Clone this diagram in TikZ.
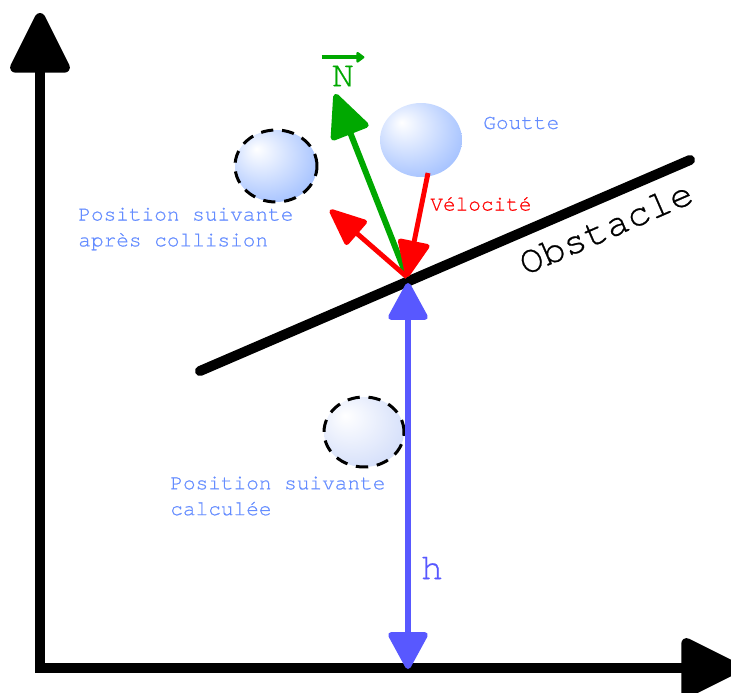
\documentclass[tikz,border=0pt]{standalone}
\usepackage{fontspec}
\setmonofont[FakeBold=0.6]{TeX Gyre Cursor}
\usetikzlibrary{arrows.meta,shapes.geometric}

\definecolor{gouttebleu}{RGB}{168,196,255}
\definecolor{gouttepale}{RGB}{214,224,250}
\definecolor{textebleu}{RGB}{100,140,255}
\definecolor{bleuh}{RGB}{88,88,255}
\definecolor{vertN}{RGB}{0,168,0}
\definecolor{rougeV}{RGB}{255,0,0}

\pgfdeclareradialshading{goutte}{\pgfpoint{-12bp}{12bp}}{color(0bp)=(white); color(32bp)=(gouttebleu); color(60bp)=(gouttebleu)}
\pgfdeclareradialshading{gouttepale}{\pgfpoint{-12bp}{12bp}}{color(0bp)=(white); color(32bp)=(gouttepale); color(60bp)=(gouttepale)}

\begin{document}
\begin{tikzpicture}[x=0.02cm, y=-0.02cm,
    axe/.style={line width=6pt, {Triangle[round,length=38pt,width=36pt]}-{Triangle[round,length=38pt,width=36pt]}},
    obstacle/.style={line width=5.7pt, line cap=round},
    fleche bleue/.style={bleuh, line width=3.4pt, {Triangle[round,length=23pt,width=24pt]}-{Triangle[round,length=23pt,width=24pt]}},
    fleche verte/.style={vertN, line width=3.4pt, -{Triangle[round,length=27pt,width=24pt]}},
    fleche rouge/.style={rougeV, line width=2.8pt, -{Triangle[round,length=23pt,width=19pt]}},
    goutte/.style={ellipse, inner sep=0pt, shade, shading=goutte},
    fantome/.style={ellipse, inner sep=0pt, draw=black, line width=1.7pt, dash pattern=on 7pt off 5pt},
    texte/.style={font=\ttfamily\fontsize{12}{14.7}\selectfont, align=left, anchor=west, inner sep=0pt}]

    \useasboundingbox (0,0) rectangle (731,693);

    % axes
    \coordinate (ytip) at (40,13);
    \coordinate (origine) at (40,668);
    \coordinate (xtip) at (741,668);
    \draw[axe] (ytip) -- (origine) -- (xtip);

    % obstacle
    \coordinate (o1) at (200,371);
    \coordinate (o2) at (690,160);
    \draw[obstacle] (o1) -- (o2);
    \node[font=\ttfamily\fontsize{22}{26}\selectfont, rotate=23.5] (lobstacle) at (606,228) {Obstacle};

    % gouttes
    \node[goutte, minimum width=1.64cm, minimum height=1.48cm] (goutte) at (421,140) {};
    \node[goutte, fantome, minimum width=1.64cm, minimum height=1.44cm] (suivante) at (276,166) {};
    \node[goutte, shading=gouttepale, fantome, minimum width=1.6cm, minimum height=1.4cm] (calculee) at (364,432) {};

    % h
    \coordinate (impact) at (407,277);
    \coordinate (hhaut) at (408,283);
    \coordinate (hbas) at (408,669);
    \draw[fleche bleue] (hbas) -- (hhaut);
    \node[bleuh, font=\ttfamily\fontsize{21}{24}\selectfont] (lh) at (432,568) {h};

    % normale
    \coordinate (normale) at (335,94);
    \draw[fleche verte] (impact) -- (normale);
    \node[vertN, font=\ttfamily\fontsize{21}{24}\selectfont, inner sep=0pt] (lN) at (343,76) {N};
    \draw[vertN, line width=2.3pt, -{Triangle[round,length=5pt,width=7pt]}] ([xshift=-0.2cm, yshift=0.16cm]lN.north west) -- ([xshift=0.2cm, yshift=0.16cm]lN.north east);

    % velocite
    \coordinate (v0) at (428,173);
    \coordinate (rebond) at (330,210);
    \draw[fleche rouge] (v0) -- (impact);
    \draw[fleche rouge] (impact) -- (rebond);

    % textes
    \node[texte, textebleu] (lgoutte) at (483,123) {Goutte};
    \node[texte, rougeV] (lvel) at (430,204) {Vélocité};
    \node[texte, textebleu] (lapres) at (78,229) {Position suivante\\après collision};
    \node[texte, textebleu] (lcalc) at (170,496) {Position suivante\\calculée};
\end{tikzpicture}
\end{document}
